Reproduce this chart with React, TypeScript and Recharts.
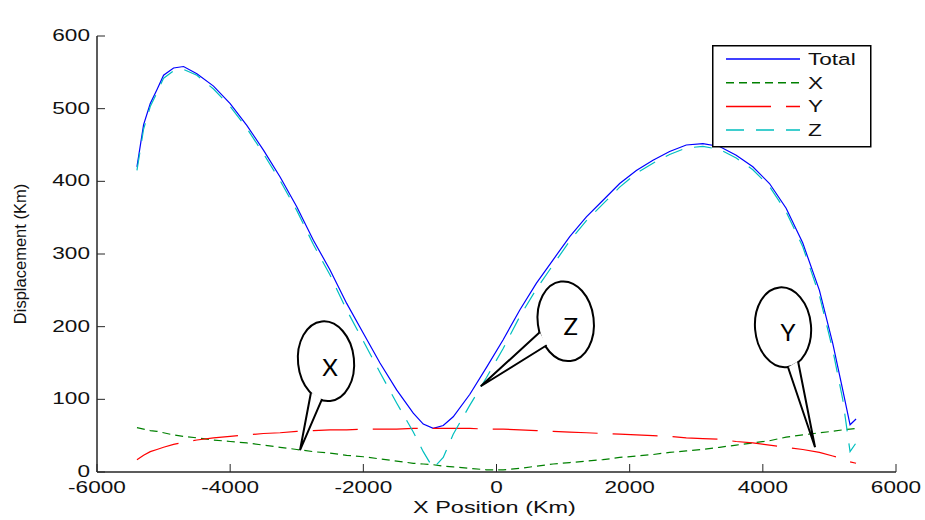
import { LineChart, Line, XAxis, YAxis, Legend, ReferenceDot, Label } from 'recharts';

// x position along the track (Km)
const positions = [
  -5400, -5300, -5200, -5100, -5000, -4850, -4700, -4500, -4250, -4000,
  -3750, -3500, -3250, -3000, -2750, -2500, -2250, -2000, -1750, -1500,
  -1250, -1100, -950, -800, -650, -400, -150, 100, 350, 600,
  850, 1100, 1350, 1600, 1850, 2100, 2350, 2600, 2850, 3100,
  3350, 3600, 3850, 4100, 4350, 4600, 4850, 5050, 5200, 5310,
  5400,
];

const totalKm = [
  420, 478, 507, 526, 546, 556, 558, 548, 531, 507,
  477, 443, 406, 365, 319, 278, 232, 191, 150, 113,
  81, 66, 60, 64, 76, 107, 144, 182, 223, 260,
  292, 324, 351, 374, 397, 415, 429, 441, 450, 452,
  448, 436, 420, 397, 363, 315, 250, 177, 113, 65,
  73,
];

const xKm = [
  61, 59, 57, 56, 54, 51, 49, 47, 44, 42,
  40, 37, 34, 31, 28, 26, 23, 21, 18, 15,
  12, 11, 10, 8, 7, 5, 3, 3, 5, 8,
  11, 13, 15, 17, 20, 22, 24, 27, 29, 31,
  34, 37, 40, 43, 48, 51, 54, 56, 58, 59,
  60,
];

const yKm = [
  17, 23, 28, 31, 34, 38, 41, 44, 47, 49,
  51, 53, 54, 56, 57, 58, 58, 59, 59, 59,
  60, 60, 60, 60, 60, 60, 59, 59, 58, 57,
  56, 55, 54, 53, 52, 51, 50, 49, 47, 46,
  45, 42, 40, 37, 34, 31, 27, 22, 18, 14,
  12,
];

const zKm = [
  415, 472, 503, 522, 542, 552, 554, 546, 527, 503,
  473, 438, 401, 360, 313, 271, 223, 180, 137, 95,
  55, 28, 5, 20, 52, 92, 130, 170, 214, 252,
  285, 318, 346, 369, 392, 411, 425, 437, 446, 448,
  444, 432, 416, 393, 358, 310, 243, 168, 100, 28,
  40,
];

const xTicks = [-6000, -4000, -2000, 0, 2000, 4000, 6000];
const yTicks = [0, 100, 200, 300, 400, 500, 600];

const data = positions.map((pos, i) => ({
  pos,
  total: totalKm[i],
  x: xKm[i],
  y: yKm[i],
  z: zKm[i],
}));

const series = [
  { key: 'total', name: 'Total', color: '#0000ff', dash: undefined },
  { key: 'x', name: 'X', color: '#008000', dash: '8 5' },
  { key: 'y', name: 'Y', color: '#ff0000', dash: '45 15' },
  { key: 'z', name: 'Z', color: '#00bfbf', dash: '18 12' },
];

// speech-bubble callouts, pointing at a data location
const callouts = [
  { label: 'X', at: [-2951, 30], ell: [26, -89], rot: -6, b1: [11, -58], b2: [22, -51], txt: [30, -83] },
  { label: 'Z', at: [-237, 118], ell: [85, -65], rot: -7, b1: [59, -54], b2: [66, -41], txt: [90, -60] },
  { label: 'Y', at: [4784, 34], ell: [-32, -120], rot: -5, b1: [-27, -80], b2: [-17, -86], txt: [-27, -115] },
];

const FONT = '"Liberation Sans", Arial, Helvetica, sans-serif';
const AXIS = '#262626';
const STRETCH = 1.33;

const XTick = ({ x, y, payload }: any) => (
  <g transform={`translate(${x},${y + 1}) scale(${STRETCH},1)`}>
    <text x={0} y={0} dy="0.71em" textAnchor="middle" fontSize={17} fontFamily={FONT} fill="#111">
      {payload.value}
    </text>
  </g>
);

const YTick = ({ x, y, payload }: any) => (
  <g transform={`translate(${x},${y - 1}) scale(${STRETCH},1)`}>
    <text x={0} y={0} dy="0.36em" textAnchor="end" fontSize={17} fontFamily={FONT} fill="#111">
      {payload.value}
    </text>
  </g>
);

const TitleLabel = ({ viewBox }: any) => (
  <g transform={`translate(${viewBox.x + viewBox.width / 2 - 3},24) scale(1.4,1)`}>
    <text textAnchor="middle" fontSize={16} fontFamily={FONT} fill="#111">
      Delay=1e-6s
    </text>
  </g>
);

const XLabel = ({ viewBox }: any) => (
  <g transform={`translate(${viewBox.x + viewBox.width / 2 - 2},${viewBox.y + 41}) scale(1.38,1)`}>
    <text textAnchor="middle" fontSize={17} fontFamily={FONT} fill="#111">
      X Position (Km)
    </text>
  </g>
);

const YLabel = ({ viewBox }: any) => (
  <g transform={`translate(26,${viewBox.y + viewBox.height / 2}) rotate(-90)`}>
    <text textAnchor="middle" fontSize={16.5} fontFamily={FONT} fill="#111">
      Displacement (Km)
    </text>
  </g>
);

const Bubble = ({ cx, cy, c }: any) => {
  const ex = cx + c.ell[0];
  const ey = cy + c.ell[1];
  return (
    <g>
      <ellipse
        cx={ex}
        cy={ey}
        rx={28}
        ry={40}
        transform={`rotate(${c.rot} ${ex} ${ey})`}
        fill="#fff"
        stroke="#000"
        strokeWidth={2}
      />
      <path
        d={`M${cx + c.b1[0]},${cy + c.b1[1]} L${cx},${cy} L${cx + c.b2[0]},${cy + c.b2[1]}`}
        fill="#fff"
        stroke="#000"
        strokeWidth={2}
      />
      <text
        x={cx + c.txt[0]}
        y={cy + c.txt[1]}
        dy="0.36em"
        textAnchor="middle"
        fontSize={24}
        fontFamily="Lato, 'Noto Sans', sans-serif"
        fill="#000"
      >
        {c.label}
      </text>
    </g>
  );
};

const renderLegend = () => (
  <svg width={160} height={103} style={{ display: 'block' }}>
    <rect x={0.75} y={0.75} width={158} height={101} fill="#fff" stroke="#000" strokeWidth={1.5} />
    {series.map((s, i) => {
      const ly = 14 + i * 23.7;
      return (
        <g key={s.key}>
          <line x1={14} x2={88} y1={ly} y2={ly} stroke={s.color} strokeWidth={1.5} strokeDasharray={s.dash} />
          <g transform={`translate(96,${ly}) scale(1.37,1)`}>
            <text x={0} y={0} dy="0.36em" fontSize={16.5} fontFamily={FONT} fill="#111">
              {s.name}
            </text>
          </g>
        </g>
      );
    })}
  </svg>
);

export default function App() {
  return (
    <div style={{ position: 'absolute', left: 0, top: 0, width: 925, height: 520, background: '#fff' }}>
      <LineChart width={925} height={520} data={data} margin={{ top: 36, right: 29, left: 0, bottom: 0 }}>
        <XAxis
          dataKey="pos"
          type="number"
          domain={[-6000, 6000]}
          ticks={xTicks}
          tick={<XTick />}
          tickSize={-8}
          tickMargin={16}
          height={48}
          axisLine={{ stroke: AXIS, strokeWidth: 1.5 }}
          tickLine={{ stroke: AXIS }}
          label={<Label content={<XLabel />} />}
        />
        <XAxis
          xAxisId="top"
          orientation="top"
          type="number"
          domain={[-6000, 6000]}
          ticks={xTicks}
          tick={false}
          tickSize={-8}
          height={0}
          axisLine={{ stroke: AXIS, strokeWidth: 1.5 }}
          tickLine={{ stroke: AXIS }}
          label={<Label content={<TitleLabel />} />}
        />
        <YAxis
          type="number"
          domain={[0, 600]}
          ticks={yTicks}
          tick={<YTick />}
          tickSize={-8}
          tickMargin={15}
          width={97}
          axisLine={{ stroke: AXIS, strokeWidth: 1.5 }}
          tickLine={{ stroke: AXIS }}
          label={<Label content={<YLabel />} />}
        />
        <YAxis
          yAxisId="right"
          orientation="right"
          type="number"
          domain={[0, 600]}
          ticks={yTicks}
          tick={false}
          tickSize={-8}
          width={0}
          axisLine={{ stroke: AXIS, strokeWidth: 1.5 }}
          tickLine={{ stroke: AXIS }}
        />
        <Legend
          layout="vertical"
          align="center"
          verticalAlign="middle"
          content={renderLegend}
          wrapperStyle={{ left: 712, top: 45, width: 160, height: 103 }}
        />
        {series.map((s) => (
          <Line
            key={s.key}
            type="linear"
            dataKey={s.key}
            name={s.name}
            stroke={s.color}
            strokeWidth={1.2}
            strokeDasharray={s.dash}
            dot={false}
            activeDot={false}
            isAnimationActive={false}
          />
        ))}
        {callouts.map((c) => (
          <ReferenceDot
            key={c.label}
            x={c.at[0]}
            y={c.at[1]}
            r={0}
            shape={(p: any) => <Bubble cx={p.cx} cy={p.cy} c={c} />}
          />
        ))}
      </LineChart>
    </div>
  );
}
